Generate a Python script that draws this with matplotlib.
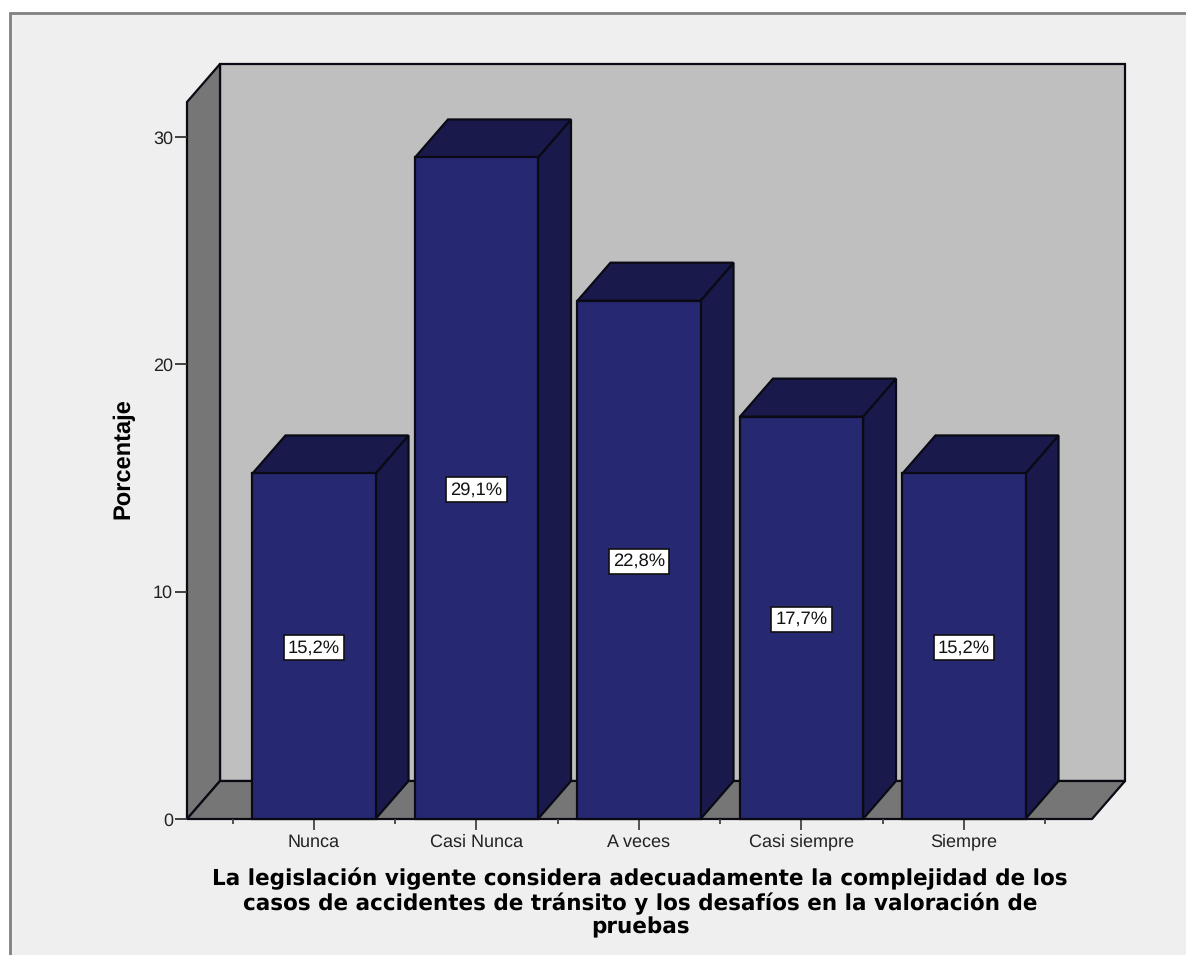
import matplotlib
matplotlib.use("Agg")
import matplotlib.pyplot as plt
from matplotlib.patches import Polygon, Rectangle

categories = ["Nunca", "Casi Nunca", "A veces", "Casi siempre", "Siempre"]
porcentajes = [15.2, 29.1, 22.8, 17.7, 15.2]
etiquetas = ["15,2%", "29,1%", "22,8%", "17,7%", "15,2%"]
y_ticks = [0, 10, 20, 30]
xlabel_text = ("La legislación vigente considera adecuadamente la complejidad de los\n"
               "casos de accidentes de tránsito y los desafíos en la valoración de\n"
               "pruebas")

W, H = 1186, 955
plt.rcParams['font.family'] = ['Liberation Sans', 'DejaVu Sans']
plt.rcParams['text.hinting'] = 'no_hinting'

fig = plt.figure(figsize=(W / 100, H / 100), dpi=100, facecolor="white")

# panel del grafico con el marco gris (se sale por la derecha y por abajo)
bg = Rectangle((10 / W, -0.02), 1.02, (H - 13) / H + 0.02, transform=fig.transFigure,
               facecolor="#efefef", edgecolor="#808080", linewidth=2, zorder=-1)
fig.add_artist(bg)

# ejes frontales en pixeles: x 187-1092, y 102-819
ax = fig.add_axes([187 / W, (H - 819) / H, (1092 - 187) / W, (819 - 102) / H])
ax.patch.set_alpha(0)
ax.set_xlim(-0.7815, 4.7877)
ax.set_ylim(0, 31.54)

x0, x1 = ax.get_xlim()
y1 = ax.get_ylim()[1]
dx = 33 / 162.5
dy = 38 / 22.73
bar_w = 0.757
edge = "#0a0a14"

# pared del fondo, pared izquierda y piso
ax.add_patch(Polygon([(x0 + dx, dy), (x1 + dx, dy), (x1 + dx, y1 + dy), (x0 + dx, y1 + dy)],
                     facecolor="#bfbfbf", edgecolor=edge, linewidth=1.6, clip_on=False))
ax.add_patch(Polygon([(x0, 0), (x0 + dx, dy), (x0 + dx, y1 + dy), (x0, y1)],
                     facecolor="#767676", edgecolor=edge, linewidth=1.6, clip_on=False))
ax.add_patch(Polygon([(x0, 0), (x1, 0), (x1 + dx, dy), (x0 + dx, dy)],
                     facecolor="#767676", edgecolor=edge, linewidth=1.6, clip_on=False))

for i, v in enumerate(porcentajes):
    l = i - bar_w / 2
    r = i + bar_w / 2
    ax.add_patch(Polygon([(r, 0), (r + dx, dy), (r + dx, v + dy), (r, v)],
                         facecolor="#191a4b", edgecolor=edge, linewidth=1.6, clip_on=False, zorder=3))
    ax.add_patch(Polygon([(l, v), (r, v), (r + dx, v + dy), (l + dx, v + dy)],
                         facecolor="#191a4b", edgecolor=edge, linewidth=1.6, clip_on=False, zorder=3))
    ax.add_patch(Rectangle((l, 0), bar_w, v, facecolor="#272872", edgecolor=edge,
                           linewidth=1.6, clip_on=False, zorder=4))
    ax.annotate(etiquetas[i], (i, v / 2), xytext=(0, -1), textcoords="offset points",
                ha="center", va="center", fontsize=13.2, color="#111111", zorder=5,
                bbox=dict(boxstyle="square,pad=0.22", facecolor="white", edgecolor="#111111", linewidth=1.2))

for s in ax.spines:
    ax.spines[s].set_visible(False)

ax.set_yticks(y_ticks)
ax.set_xticks(range(len(categories)))
ax.set_xticklabels(categories)
ax.set_xticks([i - 0.5 for i in range(len(categories) + 1)], minor=True)
ax.tick_params(axis="y", length=8.5, width=1.3, color="#333333", labelsize=13, labelcolor="#222222", pad=1.5)
ax.tick_params(axis="x", which="major", length=8, width=1.3, color="#444444", labelsize=13,
               labelcolor="#222222", pad=2.5)
ax.tick_params(axis="x", which="minor", length=3.4, width=1.3, color="#444444")

fig.text(123 / W, 1 - 459 / H, "Porcentaje", rotation=90, ha="center", va="center",
         fontsize=17, fontweight="bold", color="black")
fig.text(640 / W, 1 - 903 / H, xlabel_text, ha="center", va="center", fontsize=15.5,
         fontweight="bold", color="black", linespacing=1.12, family="DejaVu Sans")

fig.savefig("out.png", dpi=100, facecolor="white")
